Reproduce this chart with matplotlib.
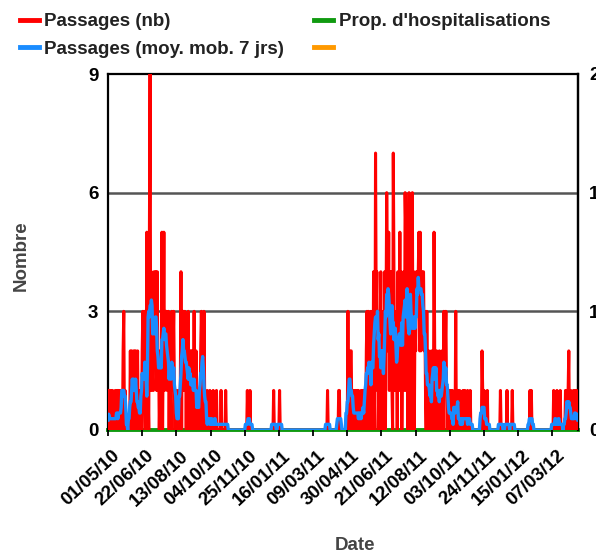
import matplotlib
matplotlib.use("Agg")
import matplotlib.pyplot as plt
import matplotlib.transforms as mtransforms
import pandas as pd
from matplotlib.lines import Line2D

# ---------------- data ----------------
start_date = "2010-05-01"

# daily number of visits, 10 days per string
passages_blocks = [
    "1000100100", "0100101001", "0102301000", "0000202102", "2020120001",
    "0023130005", "0105914211", "4424141201", "2150251323", "1230210312",
    "3101001000", "1403231320", "2130212021", "0301201001", "0232203100",
    "0100010000", "1000010000", "0010000001", "0000000000", "0000000000",
    "0000000000", "0010001000", "0000000000", "0000000000", "0000000000",
    "0010000000", "0100000000", "0000000000", "0000000000", "0000000000",
    "0000000000", "0000000000", "0000000000", "0000100000", "0000000000",
    "0110000000", "0000030202", "2010100101", "0100010101", "0102313020",
    "3120410734", "1303240203", "1403642514", "2410741213", "0412514023",
    "4165130461", "3046140324", "4345252434", "4231031021", "1020105210",
    "2011201021", "0312310101", "0100100003", "0010010000", "1001000100",
    "0100000000", "0000000002", "1010000100", "0000000000", "0000000100",
    "0000000100", "0000010000", "0000000000", "0000000000", "0010100000",
    "0000000000", "0000000000", "0000000010", "0001000010", "0000001010",
    "1200100010", "010100",
]
passages_nb = [int(c) for block in passages_blocks for c in block]
n_days = len(passages_nb)

hosp_prop = [0.0] * n_days          # proportion of hospitalisations (flat)

tick_dates = ["2010-05-01", "2010-06-22", "2010-08-13", "2010-10-04",
              "2010-11-25", "2011-01-16", "2011-03-09", "2011-04-30",
              "2011-06-21", "2011-08-12", "2011-10-03", "2011-11-24",
              "2012-01-15", "2012-03-07"]
tick_labels = ["01/05/10", "22/06/10", "13/08/10", "04/10/10", "25/11/10",
               "16/01/11", "09/03/11", "30/04/11", "21/06/11", "12/08/11",
               "03/10/11", "24/11/11", "15/01/12", "07/03/12"]

left_ticks = [0, 3, 6, 9]
right_ticks = [0, 2 / 3, 4 / 3, 2]
right_tick_labels = ["0", "1", "1", "2"]

series_labels = ["Passages (nb)", "Passages (moy. mob. 7 jrs)",
                 "Prop. d'hospitalisations", " "]

# ---------------- derived ----------------
dates = pd.date_range(start_date, periods=n_days, freq="D")
passages_ma7 = pd.Series(passages_nb).rolling(7, center=True,
                                              min_periods=1).mean()

# ---------------- figure ----------------
W, H = 596, 556
fig = plt.figure(figsize=(W / 100, H / 100), dpi=100)
ax_l, ax_r, ax_b, ax_t = 108, 578, 430, 74
ax = fig.add_axes([ax_l / W, 1 - ax_b / H, (ax_r - ax_l) / W, (ax_b - ax_t) / H])

FONT = "Liberation Sans"
RED, BLUE, GREEN, ORANGE = "#ff0000", "#1a8cff", "#109a10", "#ff9900"

l_red, = ax.plot(dates, passages_nb, color=RED, lw=2.2, zorder=3)
l_blue, = ax.plot(dates, passages_ma7, color=BLUE, lw=2.4, zorder=4)

ax.set_xlim(dates[0], dates[-1])
ax.set_ylim(0, 9)
ax.set_yticks(left_ticks)
ax.set_yticklabels([str(t) for t in left_ticks], fontsize=13.5,
                   fontweight="bold", family=FONT, color="black")
ax.tick_params(axis="y", length=0, pad=7)

ax.set_xticks(pd.to_datetime(tick_dates))
ax.set_xticklabels(tick_labels, rotation=43, ha="right",
                   rotation_mode="anchor", fontsize=13.5,
                   fontweight="bold", family=FONT, color="black")
ax.tick_params(axis="x", length=4, width=1.3, color="black", pad=8.5)
shift = mtransforms.ScaledTranslation(4 / 100, 0, fig.dpi_scale_trans)
for lab in ax.get_xticklabels():
    lab.set_transform(lab.get_transform() + shift)

for yv in (3, 6):
    ax.axhline(yv, color="#555555", lw=1.8, zorder=1)

for side in ("left", "top", "right"):
    ax.spines[side].set_color("black")
    ax.spines[side].set_linewidth(1.6)
ax.spines["bottom"].set_visible(False)

ax.set_ylabel("Nombre", fontsize=13.5, fontweight="bold", family=FONT,
              color="#444444", va="center")
ax.yaxis.set_label_coords((21 - ax_l) / (ax_r - ax_l), 0.49)
ax.set_xlabel("Date", fontsize=13.5, fontweight="bold", family=FONT,
              color="#444444", va="center")
ax.xaxis.set_label_coords((355 - ax_l) / (ax_r - ax_l),
                          (ax_b - 546) / (ax_b - ax_t))

ax2 = ax.twinx()
l_green, = ax2.plot(dates, hosp_prop, color=GREEN, lw=2.8, zorder=5,
                    clip_on=False)
l_orange, = ax2.plot([], [], color=ORANGE, lw=3)
ax2.set_ylim(0, 2)
ax2.set_yticks(right_ticks)
ax2.set_yticklabels(right_tick_labels, fontsize=13.5, fontweight="bold",
                    family=FONT, color="black")
ax2.tick_params(axis="y", length=0, pad=8)
for side in ("left", "top", "bottom"):
    ax2.spines[side].set_visible(False)
ax2.spines["right"].set_color("black")
ax2.spines["right"].set_linewidth(1.6)
ax.set_zorder(ax2.get_zorder() + 1)
ax.patch.set_visible(False)

handles = [Line2D([], [], color=c, lw=3.5) for c in (RED, BLUE, GREEN, ORANGE)]
leg = fig.legend(handles, series_labels, loc="upper left",
                 bbox_to_anchor=(20 / W, 1 - 13 / H), ncol=2, frameon=False,
                 borderpad=0, borderaxespad=0, handlelength=1.0,
                 handletextpad=0.3, labelspacing=0.55, columnspacing=1.6,
                 prop={"family": FONT, "weight": "bold", "size": 13.5})
for t in leg.get_texts():
    t.set_color("#222222")

fig.savefig("out.png", dpi=100)
